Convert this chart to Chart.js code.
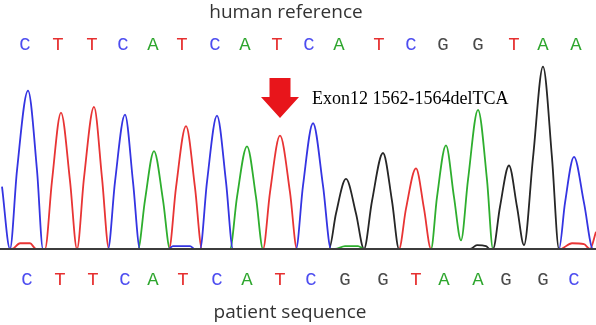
<!DOCTYPE html>
<html>
<head>
<meta charset="utf-8">
<script src="https://cdn.jsdelivr.net/npm/chart.js@4.4.0/dist/chart.umd.min.js"></script>
<style>
    html, body { margin: 0; padding: 0; background: #fff; }
    #wrap { width: 596px; height: 325px; position: relative; }
</style>
</head>
<body>
<div id="wrap"><canvas id="traceChart"></canvas></div>
<script>
// base calls: reference on top, patient trace below, with the scan position of each call
const refBases = ['C', 'T', 'T', 'C', 'A', 'T', 'C', 'A', 'T', 'C', 'A', 'T', 'C', 'G', 'G', 'T', 'A', 'A'];
const refPos = [25, 58, 92, 123, 153, 182, 215, 245, 277, 309, 339, 379, 411, 443, 478, 514, 543, 576];
const patientBases = ['C', 'T', 'T', 'C', 'A', 'T', 'C', 'A', 'T', 'C', 'G', 'G', 'T', 'A', 'A', 'G', 'G', 'C'];
const patientPos = [27, 60, 93, 125, 153, 183, 217, 247, 280, 311, 345, 383, 416, 444, 478, 506, 543, 574];

// trace points [scan, signal] (foot, half height, apex, half height, foot)
const traceC = [[2, 65], [10, 0], [17, 82], [28, 165], [37, 82], [43, 0], [108, 0], [115, 70], [125, 140], [133, 70], [140, 0], [168, 0], [173, 3], [190, 3], [195, 0], [200, 0], [207, 70], [217, 139], [226, 70], [233, 0], [296, 0], [303, 66], [313, 131], [323, 66], [331, 0], [559, 0], [565, 48], [574, 96], [584, 48], [593, 0], [596, 0]];
const traceT = [[0, 0], [12, 0], [20, 6], [30, 6], [36, 0], [45, 0], [52, 71], [61, 142], [70, 71], [77, 0], [84, 74], [94, 148], [102, 74], [109, 0], [169, 0], [176, 64], [186, 128], [195, 64], [202, 0], [263, 0], [270, 59], [280, 118], [290, 59], [297, 0], [399, 0], [406, 42], [416, 84], [424, 42], [431, 0], [560, 0], [572, 6], [584, 5], [590, 0], [596, 18]];
const traceA = [[0, 0], [138, 0], [145, 51], [154, 102], [163, 51], [170, 0], [230, 0], [237, 54], [247, 107], [256, 54], [263, 0], [335, 0], [345, 3], [358, 3], [364, 0], [431, 0], [437, 54], [446, 108], [454, 54], [461, 9], [468, 72], [478, 145], [487, 72], [493, 0], [596, 0]];
const traceG = [[0, 0], [329, 0], [336, 37], [346, 73], [356, 37], [364, 0], [372, 50], [383, 100], [392, 50], [399, 0], [470, 0], [477, 4], [486, 3], [490, 0], [493, 0], [500, 44], [509, 87], [517, 44], [524, 4], [533, 95], [543, 190], [552, 95], [559, 0], [596, 0]];

const refTitle = 'human reference';
const patientTitle = 'patient sequence';
const mutationLabel = 'Exon12 1562-1564delTCA';
const mutationScan = 280;

const traceColors = { C: '#3434e2', T: '#e83434', A: '#2eae2e', G: '#262626' };
const letterColors = { C: '#4d4df0', T: '#e63030', A: '#2ea62e', G: '#4a4a4a' };

const toPoints = arr => arr.map(([x, y]) => ({ x: x, y: y }));

const overlay = {
    id: 'overlay',
    afterDraw(chart) {
        const { ctx, scales: { x } } = chart;
        ctx.save();
        ctx.textBaseline = 'alphabetic';
        ctx.textAlign = 'center';

        ctx.font = '19px "Liberation Mono", monospace';
        refBases.forEach((b, i) => {
            ctx.fillStyle = letterColors[b];
            ctx.fillText(b, x.getPixelForValue(refPos[i]), 50);
        });
        patientBases.forEach((b, i) => {
            ctx.fillStyle = letterColors[b];
            ctx.fillText(b, x.getPixelForValue(patientPos[i]), 285);
        });

        ctx.font = '19px "Open Sans", sans-serif';
        ctx.fillStyle = '#333';
        ctx.fillText(refTitle, 286, 18);
        ctx.fillText(patientTitle, 290, 318);

        // red arrow pointing at the deleted TCA
        const ax = x.getPixelForValue(mutationScan);
        ctx.fillStyle = '#e8151b';
        ctx.beginPath();
        ctx.moveTo(ax - 10.5, 78);
        ctx.lineTo(ax + 10.5, 78);
        ctx.lineTo(ax + 10.5, 97);
        ctx.lineTo(ax + 19, 97);
        ctx.lineTo(ax, 118);
        ctx.lineTo(ax - 19, 97);
        ctx.lineTo(ax - 10.5, 97);
        ctx.closePath();
        ctx.fill();

        ctx.textAlign = 'left';
        ctx.font = '18px "Liberation Serif", serif';
        ctx.fillStyle = '#000';
        ctx.fillText(mutationLabel, ax + 32, 104);
        ctx.restore();
    }
};

const ctx = document.getElementById('traceChart').getContext('2d');

new Chart(ctx, {
    type: 'line',
    data: {
        datasets: [
            { label: 'C', data: toPoints(traceC), borderColor: traceColors.C },
            { label: 'T', data: toPoints(traceT), borderColor: traceColors.T },
            { label: 'A', data: toPoints(traceA), borderColor: traceColors.A },
            { label: 'G', data: toPoints(traceG), borderColor: traceColors.G }
        ]
    },
    options: {
        responsive: true,
        maintainAspectRatio: false,
        animation: false,
        layout: { padding: { top: 57, bottom: 68, left: 0, right: 0 } },
        elements: {
            point: { radius: 0 },
            line: { borderWidth: 1.8, cubicInterpolationMode: 'monotone', fill: false }
        },
        plugins: {
            legend: { display: false },
            tooltip: { enabled: false }
        },
        scales: {
            x: {
                type: 'linear',
                min: 0,
                max: 596,
                grid: { display: false },
                ticks: { display: false },
                border: { display: true, color: '#3c3c3c', width: 2, z: 1 }
            },
            y: { display: false, min: 0, max: 200 }
        }
    },
    plugins: [overlay]
});
</script>
</body>
</html>
